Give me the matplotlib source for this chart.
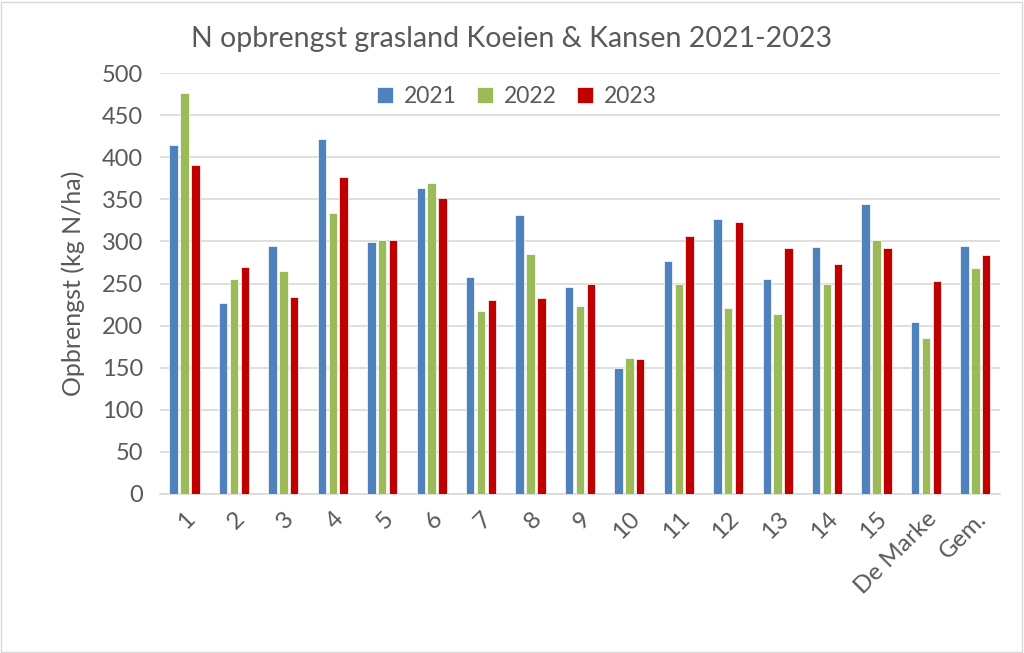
import numpy as np
import matplotlib
matplotlib.use('Agg')
import matplotlib.pyplot as plt
from matplotlib.patches import Rectangle

plt.rcParams['font.family'] = ['Lato', 'DejaVu Sans']

categories = ['1', '2', '3', '4', '5', '6', '7', '8', '9', '10', '11', '12',
              '13', '14', '15', 'De Marke', 'Gem.']
years = ['2021', '2022', '2023']
n2021 = [415, 227, 295, 422, 299, 363, 258, 331, 246, 150, 277, 327,
         256, 293, 345, 204, 295]
n2022 = [476, 255, 265, 334, 302, 370, 217, 285, 223, 162, 249, 221,
         214, 249, 302, 185, 269]
n2023 = [391, 270, 234, 377, 302, 352, 230, 233, 249, 160, 307, 323,
         292, 273, 292, 253, 284]
colors = ['#4F81BD', '#9BBB59', '#C00000']

grey = '#595959'

fig = plt.figure(figsize=(10.24, 6.53), dpi=100)
ax = fig.add_axes([0.156, 0.2435, 0.8206, 0.6445])

x = np.arange(len(categories))
w = 0.17
step = 0.22
for i, (vals, yr) in enumerate(zip([n2021, n2022, n2023], years)):
    ax.bar(x + (i - 1) * step, vals, width=w, color=colors[i], label=yr,
           edgecolor='white', linewidth=0.5, zorder=3)

ax.set_xlim(-0.5, len(categories) - 0.5)
ax.set_ylim(0, 500)
ax.set_yticks(np.arange(0, 501, 50))
ax.yaxis.grid(True, color='#d9d9d9', linewidth=1.2, zorder=0)
ax.set_axisbelow(True)
for s in ['top', 'right', 'left']:
    ax.spines[s].set_visible(False)
ax.spines['bottom'].set_color('#d9d9d9')
ax.spines['bottom'].set_linewidth(1.2)
ax.tick_params(axis='y', length=0, labelsize=17, colors=grey, pad=12)
ax.tick_params(axis='x', length=0, labelsize=17.5, colors=grey, pad=10)
ax.set_xticks(x)
ax.set_xticklabels(categories, rotation=45, ha='right', rotation_mode='anchor')
ax.set_ylabel('Opbrengst (kg N/ha)', fontsize=18, color=grey, labelpad=12)

leg = ax.legend(loc='center', bbox_to_anchor=(0.425, 0.945), ncol=3,
                frameon=False, fontsize=16.5, handlelength=0.7, handleheight=0.7,
                columnspacing=0.9, handletextpad=0.45)
for t in leg.get_texts():
    t.set_color(grey)

fig.text(0.5, 0.94, 'N opbrengst grasland Koeien & Kansen 2021-2023',
         ha='center', va='center', fontsize=20.5, color=grey)

fig.patches.append(Rectangle((0.001, 0.002), 0.997, 0.995, transform=fig.transFigure,
                             fill=False, edgecolor='#d9d9d9', linewidth=1))

fig.savefig('out.png', dpi=100)
